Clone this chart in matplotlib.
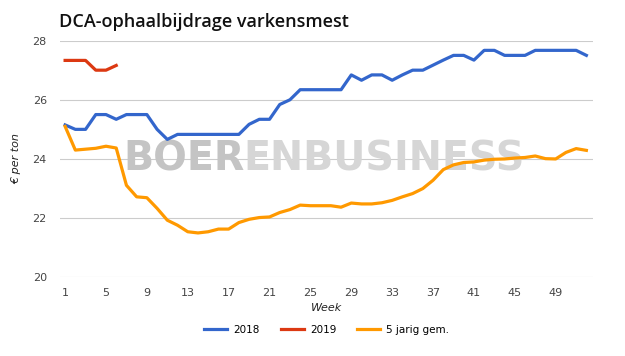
import matplotlib
matplotlib.use('Agg')
from matplotlib import pyplot as plt

weeks = list(range(1, 53))

vals_2018 = [25.15, 25.0, 25.0, 25.5, 25.5, 25.34, 25.5, 25.5, 25.5, 25.0,
             24.66, 24.83, 24.83, 24.83, 24.83, 24.83, 24.83, 24.83, 25.17, 25.34,
             25.34, 25.84, 26.0, 26.34, 26.34, 26.34, 26.34, 26.34, 26.84, 26.66,
             26.84, 26.84, 26.66, 26.84, 27.0, 27.0, 27.17, 27.34, 27.5, 27.5,
             27.34, 27.67, 27.67, 27.5, 27.5, 27.5, 27.67, 27.67, 27.67, 27.67,
             27.67, 27.5]
weeks_2019 = [1, 2, 3, 4, 5, 6]
vals_2019 = [27.33, 27.33, 27.33, 27.0, 27.0, 27.16]
vals_5yr = [25.1, 24.3, 24.33, 24.36, 24.43, 24.37, 23.11, 22.72, 22.69, 22.33,
            21.93, 21.76, 21.54, 21.5, 21.54, 21.63, 21.63, 21.85, 21.96, 22.02,
            22.04, 22.19, 22.29, 22.44, 22.42, 22.42, 22.42, 22.37, 22.51, 22.48,
            22.48, 22.52, 22.6, 22.72, 22.83, 23.0, 23.28, 23.64, 23.8, 23.88,
            23.9, 23.96, 23.99, 24.0, 24.03, 24.05, 24.1, 24.01, 24.0, 24.22,
            24.35, 24.29]

xtick_vals = list(range(1, 50, 4))
ytick_vals = [20, 22, 24, 26, 28]

plt.rcParams['font.family'] = ['DejaVu Sans']

fig = plt.figure(figsize=(6.25, 3.56), dpi=100)
ax = fig.add_axes([0.096, 0.221, 0.852, 0.665])

# watermark
ax.text(0.197, 0.522, 'BOER', transform=fig.transFigure, fontsize=28.5, fontweight='bold',
        color='#c4c4c4', family=['Liberation Sans Narrow', 'DejaVu Sans'], zorder=1, va='baseline')
ax.text(0.39, 0.522, 'ENBUSINESS', transform=fig.transFigure, fontsize=28.5, fontweight='bold',
        color='#d6d6d6', family=['Liberation Sans Narrow', 'DejaVu Sans'], zorder=1, va='baseline')

ax.plot(weeks, vals_2018, color='#3366cc', lw=2.3, label='2018', zorder=3, solid_joinstyle='round')
ax.plot(weeks_2019, vals_2019, color='#dc3912', lw=2.3, label='2019', zorder=3, solid_joinstyle='round')
ax.plot(weeks, vals_5yr, color='#ff9900', lw=2.3, label='5 jarig gem.', zorder=3, solid_joinstyle='round')

ax.set_xlim(0.5, 52.6)
ax.set_ylim(20, 28)
ax.set_xticks(xtick_vals)
ax.set_yticks(ytick_vals)
ax.tick_params(length=0, labelsize=8, labelcolor='#444444', pad=8)
ax.tick_params(axis='y', pad=9.5)
ax.grid(axis='y', color='#cccccc', lw=0.8)
ax.set_axisbelow(True)
for s in ax.spines.values():
    s.set_visible(False)

ax.set_ylabel('€ per ton', fontsize=8, style='italic', color='#222222', labelpad=8)
ax.set_xlabel('Week', fontsize=8, style='italic', color='#222222', labelpad=3)

fig.text(0.094, 0.938, 'DCA-ophaalbijdrage varkensmest', fontsize=13, color='#111111',
         va='center', family=['Open Sans', 'DejaVu Sans'], fontweight='semibold')

fig.legend(loc='center', bbox_to_anchor=(0.523, 0.073), ncol=3, frameon=False, fontsize=7.5,
           handlelength=2.2, columnspacing=2.0, handletextpad=0.6)

fig.savefig('out.png', dpi=100)
